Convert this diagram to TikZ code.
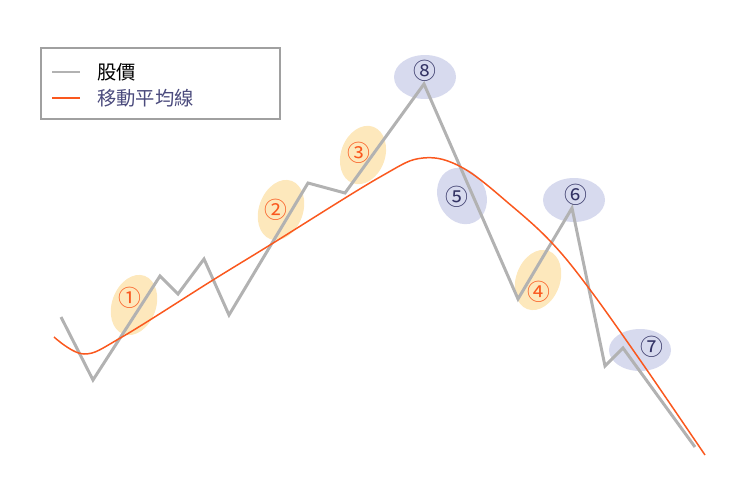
\documentclass[tikz,border=0pt]{standalone}
\usepackage{fontspec}
\newfontfamily\cjkfont{Noto Sans CJK TC}
\usepackage{xcolor}
\usetikzlibrary{positioning}
\definecolor{pricegray}{RGB}{178,178,178}
\definecolor{maorange}{RGB}{250,88,30}
\definecolor{markyellow}{RGB}{253,232,188}
\definecolor{markblue}{RGB}{215,218,238}
\definecolor{navytext}{RGB}{50,50,100}
\definecolor{legendtext}{RGB}{75,75,125}

\begin{document}
\begin{tikzpicture}[x=0.02cm,y=-0.02cm,
	price/.style={pricegray,line width=1.7pt},
	avg/.style={maorange,line width=0.85pt},
	uplabel/.style={inner sep=0pt,text=maorange,font=\cjkfont\fontsize{13}{13}\selectfont},
	downlabel/.style={inner sep=0pt,text=navytext,font=\cjkfont\fontsize{13}{13}\selectfont},
	legendlabel/.style={inner sep=0pt,anchor=west,font=\cjkfont\fontsize{11}{11}\selectfont}]
		\useasboundingbox (0,0) rectangle (740,490);
		% legend
		\draw[pricegray!90!black,line width=0.6pt] (41,48) rectangle (280,119);
		\coordinate (lp1) at (52,72);
		\coordinate (lp2) at (80,72);
		\coordinate (la1) at (52,98);
		\coordinate (la2) at (80,98);
		\draw[price] (lp1) -- (lp2);
		\draw[maorange,line width=1.1pt] (la1) -- (la2);
		\node[legendlabel,right=9.6pt of lp2] (lgprice) {股價};
		\node[legendlabel,right=9.6pt of la2,text=legendtext] (lgavg) {移動平均線};
		% marks
		\fill[markyellow,rotate around={-20:(134,305)}] (134,305) ellipse [x radius=22,y radius=31];
		\fill[markyellow,rotate around={-20:(281,210)}] (281,210) ellipse [x radius=22,y radius=31];
		\fill[markyellow,rotate around={-20:(363,155)}] (363,155) ellipse [x radius=22,y radius=30];
		\fill[markyellow,rotate around={-20:(538,280)}] (538,280) ellipse [x radius=22,y radius=31];
		\fill[markblue,rotate around={25:(462,196)}] (462,196) ellipse [x radius=24,y radius=29];
		\fill[markblue] (574,200) ellipse [x radius=31,y radius=22];
		\fill[markblue] (640,350) ellipse [x radius=31,y radius=21];
		\fill[markblue] (425,77) ellipse [x radius=31,y radius=22];
		% price
		\draw[price] (61,317) -- (93,380) -- (160,276) -- (178,294) -- (204,259) -- (229,315) -- (308,183) -- (345,193) -- (424,84) -- (518,299) -- (572,208) -- (605,366) -- (623,348) -- (695,447);
		% moving average
		\draw[avg] plot[smooth,tension=0.6] coordinates {(54,337) (84,354) (122,337) (213,280) (270,245) (380,177) (423,158) (463,168) (513,207) (552,243) (588,287) (640,360) (705,455)};
		% numbers
		\node[uplabel] (m1) at (130,298) {①};
		\node[uplabel] (m2) at (276,210) {②};
		\node[uplabel] (m3) at (359,153) {③};
		\node[uplabel] (m4) at (539,292) {④};
		\node[downlabel] (m5) at (457,197) {⑤};
		\node[downlabel] (m6) at (576,195) {⑥};
		\node[downlabel] (m7) at (652,347) {⑦};
		\node[downlabel] (m8) at (425,71) {⑧};
	\end{tikzpicture}
\end{document}
